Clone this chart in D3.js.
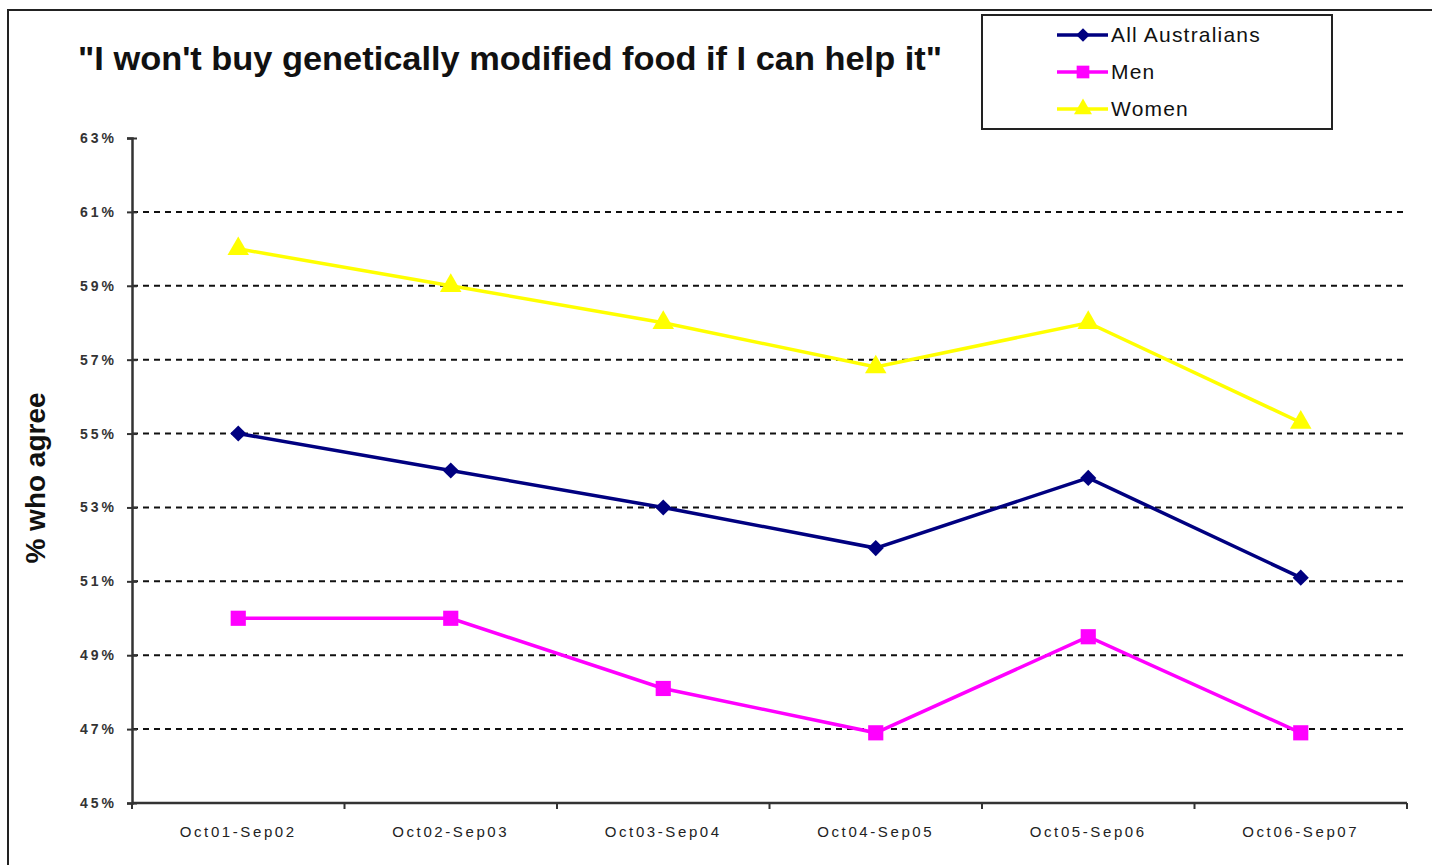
<!DOCTYPE html>
<html>
<head>
<meta charset="utf-8">
<script src="https://cdn.jsdelivr.net/npm/d3@7/dist/d3.min.js"></script>
<style>
  html, body { margin: 0; padding: 0; background: #fff; }
  svg { display: block; }
</style>
</head>
<body>
<script>
// Survey periods and share of respondents who agree (%)
const periods = ["Oct01-Sep02", "Oct02-Sep03", "Oct03-Sep04", "Oct04-Sep05", "Oct05-Sep06", "Oct06-Sep07"];
const allAustralians = [55.0, 54.0, 53.0, 51.9, 53.8, 51.1];
const men = [50.0, 50.0, 48.1, 46.9, 49.5, 46.9];
const women = [60.0, 59.0, 58.0, 56.8, 58.0, 55.3];
const yTicks = [45, 47, 49, 51, 53, 55, 57, 59, 61, 63];
const seriesNames = ["All Australians", "Men", "Women"];

const W = 1432, H = 865;
const margin = { left: 132, right: 25, top: 138, bottom: 62 };
const FONT = "Liberation Sans, Arial, sans-serif";

const svg = d3.select("body").append("svg").attr("width", W).attr("height", H);

// outer frame
svg.append("rect").attr("x", 8).attr("y", 10).attr("width", W + 20).attr("height", H + 20)
  .attr("fill", "none").attr("stroke", "#222").attr("stroke-width", 2);

const x = d3.scaleBand().domain(periods).range([margin.left, W - margin.right]);
const y = d3.scaleLinear().domain([45, 63]).range([H - margin.bottom, margin.top]);

// square-ish diamond marker
const wideDiamond = {
  draw(ctx, size) {
    const r = Math.sqrt(size / 2);
    ctx.moveTo(0, -r); ctx.lineTo(r, 0); ctx.lineTo(0, r); ctx.lineTo(-r, 0); ctx.closePath();
  }
};

// dashed gridlines
svg.append("g").selectAll("line")
  .data(yTicks.filter(t => t > 45 && t < 63))
  .join("line")
  .attr("x1", margin.left).attr("x2", W - margin.right)
  .attr("y1", d => y(d)).attr("y2", d => y(d))
  .attr("stroke", "#111").attr("stroke-width", 2).attr("stroke-dasharray", "6,5");

// y axis
const yAxis = svg.append("g").attr("transform", `translate(${margin.left},0)`)
  .call(d3.axisLeft(y).tickValues(yTicks).tickFormat(d => d + "%").tickSize(5).tickPadding(10));
yAxis.select(".domain").attr("stroke", "#333").attr("stroke-width", 2.5);
yAxis.selectAll(".tick line").attr("stroke", "#333").attr("stroke-width", 2).attr("x2", 5).attr("x1", -5);
yAxis.selectAll(".tick text").attr("font-family", FONT)
  .attr("font-size", 14).attr("font-weight", "bold").attr("fill", "#333")
  .attr("letter-spacing", 3);

// x axis with ticks between categories
const xAxisG = svg.append("g").attr("transform", `translate(0,${H - margin.bottom})`);
xAxisG.append("line").attr("x1", margin.left).attr("x2", W - margin.right)
  .attr("stroke", "#333").attr("stroke-width", 2.5);
const boundaries = periods.map(p => x(p)).concat([x(periods[periods.length - 1]) + x.bandwidth()]);
xAxisG.selectAll("line.tk").data(boundaries).join("line").attr("class", "tk")
  .attr("x1", d => d).attr("x2", d => d).attr("y1", 0).attr("y2", 6)
  .attr("stroke", "#333").attr("stroke-width", 2);
xAxisG.selectAll("text").data(periods).join("text")
  .attr("x", d => x(d) + x.bandwidth() / 2).attr("y", 34)
  .attr("text-anchor", "middle")
  .attr("font-family", FONT).attr("font-size", 15)
  .attr("letter-spacing", 2.6)
  .attr("fill", "#222").text(d => d);

// title
svg.append("text").attr("x", 78).attr("y", 70)
  .attr("font-family", FONT).attr("font-weight", "bold")
  .attr("font-size", 33).attr("fill", "#111")
  .attr("textLength", 864).attr("lengthAdjust", "spacingAndGlyphs")
  .text("\"I won't buy genetically modified food if I can help it\"");

// y axis title
svg.append("text").attr("transform", "translate(45,478) rotate(-90)")
  .attr("text-anchor", "middle")
  .attr("font-family", FONT).attr("font-weight", "bold")
  .attr("font-size", 28).attr("fill", "#111").text("% who agree");

const series = [
  { name: seriesNames[0], values: allAustralians, color: "#000080", symbol: wideDiamond, size: 130 },
  { name: seriesNames[1], values: men, color: "#FF00FF", symbol: d3.symbolSquare, size: 230 },
  { name: seriesNames[2], values: women, color: "#FFFF00", symbol: d3.symbolTriangle, size: 200 }
];

const cx = p => x(p) + x.bandwidth() / 2;
const line = d3.line().x((d, i) => cx(periods[i])).y(d => y(d));

series.forEach(s => {
  svg.append("path").datum(s.values).attr("d", line)
    .attr("fill", "none").attr("stroke", s.color).attr("stroke-width", 3.5);
  svg.append("g").selectAll("path").data(s.values).join("path")
    .attr("transform", (d, i) => `translate(${cx(periods[i])},${y(d)})`)
    .attr("d", d3.symbol().type(s.symbol).size(s.size))
    .attr("fill", s.color);
});

// legend
const lg = svg.append("g");
lg.append("rect").attr("x", 982).attr("y", 15).attr("width", 350).attr("height", 114)
  .attr("fill", "#fff").attr("stroke", "#222").attr("stroke-width", 2);
series.forEach((s, i) => {
  const ly = 35 + i * 37;
  lg.append("line").attr("x1", 1057).attr("x2", 1108).attr("y1", ly).attr("y2", ly)
    .attr("stroke", s.color).attr("stroke-width", 3.5);
  lg.append("path").attr("transform", `translate(1083,${ly})`)
    .attr("d", d3.symbol().type(s.symbol).size(s.size * 0.7)).attr("fill", s.color);
  lg.append("text").attr("x", 1111).attr("y", ly + 7)
    .attr("font-family", FONT).attr("font-size", 21)
    .attr("letter-spacing", 1.2)
    .attr("fill", "#111").text(s.name);
});
</script>
</body>
</html>
